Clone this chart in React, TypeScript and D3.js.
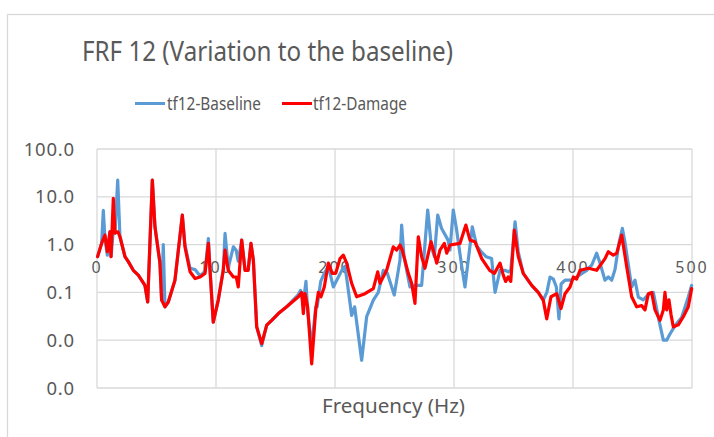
import React from "react";
import * as d3 from "d3";

const title = "FRF 12 (Variation to the baseline)";
const xAxisTitle = "Frequency (Hz)";
const seriesNames = ["tf12-Baseline", "tf12-Damage"];
const xTicks = [0, 100, 200, 300, 400, 500];
const yTicks = [100, 10, 1, 0.1, 0.01, 0.001];

// [frequency (Hz), magnitude]
const baseline: [number, number][] = [
  [0.5,0.56],[3.9,1.06],[5.3,5.2],[6.7,1.3],[8.7,0.6],[10.9,1.85],[11.8,0.56],[13.7,2.0],[15.1,1.74],[17.4,22.4],[19.3,1.46],[23.5,0.56],[26.3,0.44],[30.5,0.29],[34.7,0.23],[40.3,0.14],[42.6,0.063],[46.5,22.4],[48.7,2.36],[52.9,0.41],[54.3,0.07],[55.7,1.0],[57.1,0.05],[59.9,0.063],[65.5,0.18],[71.7,4.15],[73.9,1.0],[76,0.56],[78.2,0.32],[82.4,0.3],[86.6,0.22],[90.8,0.28],[93.6,1.34],[95,0.29],[97.7,0.024],[101.9,0.069],[106.1,0.29],[107.6,1.71],[110.3,0.33],[114.6,0.9],[117,0.75],[118.7,0.45],[121.6,1.24],[124.4,0.29],[127,0.29],[129.4,1.06],[131.4,0.47],[134.2,0.019],[138.4,0.0077],[142.6,0.0206],[146.8,0.026],[152.4,0.036],[159.4,0.05],[169.2,0.09],[171,0.11],[173.4,0.06],[175.6,0.17],[177,0.04],[180.4,0.0072],[183.8,0.05],[185,0.05],[188,0.17],[191,0.25],[194.4,0.35],[198.6,0.13],[202,0.19],[206,0.3],[208.4,0.35],[210.5,0.15],[214,0.033],[216.5,0.05],[222.4,0.0038],[226.6,0.031],[232.2,0.069],[236.4,0.1],[240.6,0.29],[244,0.25],[249.8,0.088],[254.6,0.47],[256,2.56],[258,0.56],[263,0.13],[267,0.14],[272.8,0.14],[277.9,5.3],[281,0.9],[283.5,0.56],[286.3,4.15],[289.5,2.2],[295,1.24],[296.6,0.77],[299.4,5.3],[302,2.2],[306.5,0.35],[309.2,0.13],[315.4,2.36],[319,0.95],[323,0.7],[327,0.56],[331.6,0.51],[334.5,0.1],[338.7,0.29],[342.9,0.29],[345.5,0.27],[347.7,0.29],[351.3,3.0],[354,0.7],[358.2,0.25],[365.3,0.14],[370.8,0.1],[375,0.069],[378,0.1],[380.7,0.21],[383.5,0.19],[386,0.13],[388.2,0.028],[390,0.15],[393.3,0.18],[398.9,0.18],[401.7,0.2],[411.5,0.29],[415.7,0.37],[419.9,0.66],[422.7,0.41],[426.9,0.18],[429.7,0.21],[432.5,0.18],[435.3,0.3],[438.7,1.1],[441.5,2.18],[443.7,1.1],[449.3,0.13],[452.1,0.18],[454.9,0.08],[459,0.07],[463.3,0.09],[467.5,0.1],[471.7,0.03],[475.9,0.01],[478.7,0.01],[481.5,0.0135],[485.7,0.02],[491.3,0.03],[496.9,0.08],[499.7,0.14]
];

const damage: [number, number][] = [
  [0.5,0.56],[3.9,1.06],[6.7,1.58],[8.7,0.71],[10.9,1.85],[11.8,0.56],[13.7,9.3],[15.1,1.74],[17.6,1.85],[19.3,1.46],[23.5,0.56],[26.3,0.44],[30.5,0.29],[34.7,0.23],[40.3,0.14],[42.6,0.063],[46.5,22.4],[48.7,2.36],[52.9,0.41],[54.3,0.069],[57.1,0.05],[59.9,0.063],[65.5,0.18],[71.7,4.15],[73.9,0.9],[78.2,0.27],[82.4,0.195],[86.6,0.21],[90.8,0.25],[93.6,1.06],[95,0.29],[97.7,0.024],[101.9,0.069],[106.1,0.29],[107.6,0.77],[110.3,0.29],[114.6,0.21],[117,0.21],[118.7,0.13],[121.6,1.24],[124.4,0.29],[127,0.29],[129.4,1.06],[131.4,0.47],[134.2,0.019],[138.4,0.0085],[142.6,0.0206],[146.8,0.026],[152.4,0.036],[159.4,0.05],[169.2,0.081],[172,0.1],[173.4,0.036],[174.8,0.094],[177,0.05],[180.4,0.0032],[183.8,0.043],[186,0.1],[188.2,0.081],[191,0.13],[194.4,0.41],[197.7,0.25],[200.6,0.25],[204.2,0.51],[207,0.6],[209.8,0.41],[214,0.155],[218.2,0.081],[225.2,0.094],[232.2,0.12],[235.9,0.27],[237.8,0.155],[243.4,0.29],[249,0.9],[251.8,0.77],[254.6,0.98],[256.5,0.77],[261.6,0.25],[264.4,0.155],[267.2,0.059],[270,1.46],[272.8,0.56],[275.6,0.32],[280.7,1.15],[285.5,0.41],[288.2,0.77],[291.9,1.06],[293.9,0.66],[296.6,0.98],[305,1.06],[310,2.56],[313.4,1.24],[317.6,1.15],[323.3,0.51],[330,0.29],[334,0.25],[338.7,0.41],[341.4,0.23],[343.4,0.17],[345.5,0.21],[347.7,0.17],[350.7,2.0],[354,0.56],[358.2,0.25],[365.3,0.14],[370.8,0.1],[375,0.069],[377.9,0.028],[381.5,0.081],[386.3,0.094],[389.9,0.046],[393.3,0.094],[397.5,0.13],[400.3,0.21],[403,0.19],[405.9,0.29],[412.9,0.32],[419.9,0.29],[426.9,0.51],[429.7,0.71],[433.9,0.6],[436.7,0.66],[440.9,1.58],[445.1,0.35],[449.3,0.081],[453.5,0.05],[457.7,0.053],[460.5,0.043],[463.3,0.094],[466.1,0.1],[468.9,0.043],[473.1,0.026],[475.9,0.043],[477.3,0.1],[478.7,0.043],[480.6,0.07],[482.4,0.034],[484.3,0.019],[488.5,0.021],[492.7,0.031],[496.9,0.05],[499.7,0.12]
];

const W = 714;
const H = 437;
const plot = { left: 97, right: 692, top: 149, bottom: 388 };
const FONT = "'Noto Sans', 'Open Sans', sans-serif";
const TEXT = "#595959";
const GRID = "#D9D9D9";
const BLUE = "#5B9BD5";
const RED = "#FF0000";

export default function App() {
  const x = d3.scaleLinear().domain([0, 500]).range([plot.left, plot.right]);
  const y = d3.scaleLog().domain([0.001, 100]).range([plot.bottom, plot.top]);
  const line = d3
    .line<[number, number]>()
    .x((d) => x(d[0]))
    .y((d) => y(d[1]));
  const fmt = d3.format(".1f");

  return (
    <svg
      width={W}
      height={H}
      style={{ position: "absolute", left: 0, top: 0, display: "block", background: "#fff" }}
    >
      <rect x={0} y={0} width={W} height={H} fill="#fff" />
      <rect x={7.5} y={14.5} width={W + 20} height={H + 20} fill="none" stroke={GRID} strokeWidth={1.3} />

      <text x={82} y={61} fontFamily={FONT} fontSize={27} fill={TEXT} textLength={371} lengthAdjust="spacingAndGlyphs">
        {title}
      </text>

      {/* legend */}
      <line x1={135} x2={165} y1={103.5} y2={103.5} stroke={BLUE} strokeWidth={3} />
      <text x={167} y={110} fontFamily={FONT} fontSize={18} fill={TEXT} textLength={94} lengthAdjust="spacingAndGlyphs">
        {seriesNames[0]}
      </text>
      <line x1={282} x2={312} y1={103.5} y2={103.5} stroke={RED} strokeWidth={3} />
      <text x={313} y={110} fontFamily={FONT} fontSize={18} fill={TEXT} textLength={94} lengthAdjust="spacingAndGlyphs">
        {seriesNames[1]}
      </text>

      {/* grid */}
      {yTicks.map((t) => (
        <line key={"gy" + t} x1={plot.left} x2={plot.right} y1={y(t)} y2={y(t)} stroke={GRID} strokeWidth={1.3} />
      ))}
      {xTicks.map((t) => (
        <line key={"gx" + t} x1={x(t)} x2={x(t)} y1={plot.top} y2={plot.bottom} stroke={GRID} strokeWidth={1.3} />
      ))}

      {/* y labels */}
      {yTicks.map((t, i) => (
        <text
          key={"yl" + i}
          x={75}
          y={y(t)}
          dy="0.36em"
          textAnchor="end"
          fontFamily={FONT}
          fontSize={18.5}
          letterSpacing={0.8}
          fill={TEXT}
        >
          {fmt(t)}
        </text>
      ))}

      {/* x labels (at y = 1 crossing) */}
      {xTicks.map((t) => (
        <text
          key={"xl" + t}
          x={x(t)}
          y={272.5}
          textAnchor="middle"
          fontFamily={FONT}
          fontSize={16}
          letterSpacing={2}
          fill={TEXT}
        >
          {t}
        </text>
      ))}

      <text x={322} y={413} fontFamily={FONT} fontSize={19} fill={TEXT} textLength={143} lengthAdjust="spacingAndGlyphs">
        {xAxisTitle}
      </text>

      <path d={line(baseline) ?? ""} fill="none" stroke={BLUE} strokeWidth={3.2} strokeLinejoin="round" strokeLinecap="round" />
      <path d={line(damage) ?? ""} fill="none" stroke={RED} strokeWidth={3.2} strokeLinejoin="round" strokeLinecap="round" />
    </svg>
  );
}
